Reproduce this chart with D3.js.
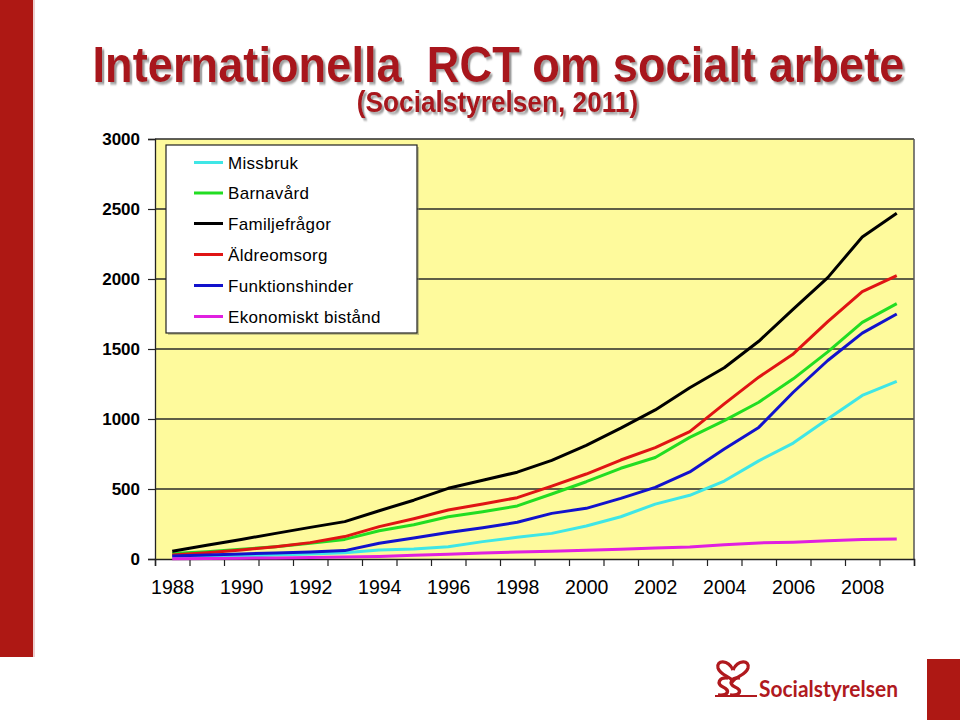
<!DOCTYPE html>
<html>
<head>
<meta charset="utf-8">
<script src="https://cdn.jsdelivr.net/npm/d3@7"></script>
<style>
  html, body { margin: 0; padding: 0; background: #ffffff; }
  svg { display: block; }
</style>
</head>
<body>
<svg id="chart" width="960" height="720"></svg>
<script>
// ---------- data ----------
const years = [1988,1989,1990,1991,1992,1993,1994,1995,1996,1997,1998,1999,2000,2001,2002,2003,2004,2005,2006,2007,2008,2009];
const yTicks = [0,500,1000,1500,2000,2500,3000];
const xLabelYears = [1988,1990,1992,1994,1996,1998,2000,2002,2004,2006,2008];

const seriesNames = ["Missbruk","Barnavård","Familjefrågor","Äldreomsorg","Funktionshinder","Ekonomiskt bistånd"];
const seriesColors = ["#3FE6E6","#22DD22","#000000","#E01414","#1212CC","#E020E0"];

const missbruk        = [12,16,21,28,36,45,64,72,88,124,155,183,236,302,392,455,557,701,828,1000,1168,1268];
const barnavard       = [40,52,69,88,112,140,202,245,302,338,379,464,552,648,725,869,988,1120,1287,1479,1690,1824];
const familjefragor   = [55,98,140,183,226,267,345,420,505,562,620,705,812,935,1065,1223,1366,1555,1785,2010,2300,2470];
const aldreomsorg     = [29,45,64,88,117,160,231,288,350,393,438,521,607,707,795,910,1108,1299,1465,1695,1910,2024];
const funktionshinder = [21,29,36,43,50,60,112,150,190,224,262,326,362,433,512,622,785,940,1191,1418,1613,1750];
const ekonomiskt      = [2,4,6,8,10,14,18,27,34,42,50,56,63,70,78,86,101,115,120,130,139,143];

const seriesValues = [missbruk, barnavard, familjefragor, aldreomsorg, funktionshinder, ekonomiskt];

// ---------- layout ----------
const svg = d3.select("#chart");
const plot = {left:155, right:914, top:139, bottom:559};

const defs = svg.append("defs");
const f = defs.append("filter").attr("id","tshadow").attr("x","-5%").attr("y","-20%").attr("width","115%").attr("height","160%");
f.append("feDropShadow").attr("dx",2.5).attr("dy",2.5).attr("stdDeviation",0.8)
  .attr("flood-color","#888").attr("flood-opacity",0.8);

// decorative red bars
svg.append("rect").attr("x",0).attr("y",0).attr("width",33).attr("height",657).attr("fill","#AE1814");
svg.append("rect").attr("x",33).attr("y",0).attr("width",2).attr("height",657).attr("fill","#d9a0a0").attr("opacity",0.5);
svg.append("rect").attr("x",927).attr("y",659).attr("width",33).attr("height",61).attr("fill","#AE1814");

// title (one text element, two lines)
const sx = 0.905;
const title = svg.append("text")
  .attr("transform",`translate(0,0) scale(${sx},1)`)
  .attr("font-family","Liberation Sans, Arial, sans-serif").attr("font-weight","bold")
  .attr("text-anchor","middle").attr("fill","#A8161B").attr("filter","url(#tshadow)")
  .style("white-space","pre");
title.append("tspan").attr("x",498.5/sx).attr("y",82.5).attr("font-size",50)
  .text("Internationella  RCT om socialt arbete");
title.append("tspan").attr("x",497.5/sx).attr("y",112.5).attr("font-size",29)
  .text("(Socialstyrelsen, 2011)");

// scales
const x = d3.scalePoint().domain(years).range([plot.left, plot.right]).padding(0.5);
const xb = d3.scaleLinear().domain([0, years.length]).range([plot.left, plot.right]);
const y = d3.scaleLinear().domain([0,3000]).range([plot.bottom, plot.top]);

// plot background
svg.append("rect").attr("x",plot.left).attr("y",plot.top)
  .attr("width",plot.right-plot.left).attr("height",plot.bottom-plot.top)
  .attr("fill","#FEFA9C");

// gridlines
svg.append("g").selectAll("line").data(yTicks.filter(d=>d>0)).join("line")
  .attr("x1",plot.left).attr("x2",plot.right)
  .attr("y1",d=>y(d)).attr("y2",d=>y(d))
  .attr("stroke","#2a2a2a").attr("stroke-width",1.3);

// right border
svg.append("line").attr("x1",plot.right).attr("x2",plot.right).attr("y1",plot.top).attr("y2",plot.bottom)
  .attr("stroke","#555").attr("stroke-width",1.5);

// y axis
const yAxis = svg.append("g").attr("transform",`translate(${plot.left},0)`)
  .call(d3.axisLeft(y).tickValues(yTicks).tickSize(7).tickPadding(8).tickFormat(d3.format("d")));
yAxis.select(".domain").attr("stroke","#222").attr("stroke-width",1.3);
yAxis.selectAll(".tick line").attr("stroke","#222").attr("stroke-width",1.2);
yAxis.selectAll("text").attr("font-family","Liberation Sans, Arial, sans-serif").attr("font-weight","bold")
  .attr("font-size",17).attr("fill","#000");

// x axis ticks (category boundaries)
const xAxisTicks = svg.append("g").attr("transform",`translate(0,${plot.bottom})`)
  .call(d3.axisBottom(xb).tickValues(d3.range(0, years.length+1)).tickSize(7).tickFormat(""));
xAxisTicks.select(".domain").attr("stroke","#222").attr("stroke-width",1.5);
xAxisTicks.selectAll(".tick line").attr("stroke","#222").attr("stroke-width",1.2);

// x labels
const xAxisLabels = svg.append("g").attr("transform",`translate(0,${plot.bottom})`)
  .call(d3.axisBottom(x).tickValues(xLabelYears).tickSize(0).tickPadding(21).tickFormat(d3.format("d")));
xAxisLabels.select(".domain").remove();
xAxisLabels.selectAll("text").attr("font-family","Liberation Sans, Arial, sans-serif")
  .attr("font-size",19.5).attr("fill","#000");

// lines
const line = d3.line().x((d,i)=>x(years[i])).y(d=>y(d));
svg.append("g").selectAll("path").data(seriesValues).join("path")
  .attr("d", d=>line(d))
  .attr("fill","none")
  .attr("stroke",(d,i)=>seriesColors[i])
  .attr("stroke-width",3)
  .attr("stroke-linejoin","round");

// legend
const lg = svg.append("g");
lg.append("rect").attr("x",168).attr("y",147).attr("width",251).attr("height",188).attr("fill","#8a8a6a").attr("opacity",0.5);
lg.append("rect").attr("x",166).attr("y",145).attr("width",251).attr("height",188)
  .attr("fill","#ffffff").attr("stroke","#222").attr("stroke-width",1.2);
const legendRows = [162.5, 193, 223.5, 254.5, 285.5, 316.5];
seriesNames.forEach((name,i)=>{
  lg.append("line").attr("x1",194).attr("x2",223).attr("y1",legendRows[i]).attr("y2",legendRows[i])
    .attr("stroke",seriesColors[i]).attr("stroke-width",3);
  lg.append("text").attr("x",228).attr("y",legendRows[i]+6)
    .attr("font-family","Liberation Sans, Arial, sans-serif").attr("font-size",17)
    .attr("letter-spacing",0.3).attr("fill","#000").text(name);
});

// logo
const logo = svg.append("g").attr("transform","translate(713,655)");
const red = "#B0191E";
logo.append("path").attr("d","M20,15 C15,4 3,5 5,13 C7,20 16,21 20,26 C24,21 33,20 35,13 C37,5 25,4 20,15")
  .attr("fill","none").attr("stroke",red).attr("stroke-width",3.2);
logo.append("path").attr("d","M15,23 C6,22 3,29 10,32 C17,35 16,41 5,40")
  .attr("fill","none").attr("stroke",red).attr("stroke-width",3.4);
logo.append("path").attr("d","M27,23 C18,22 15,29 22,32 C29,35 28,41 17,40")
  .attr("fill","none").attr("stroke",red).attr("stroke-width",3.4);
logo.append("path").attr("d","M2,41 L44,41").attr("stroke",red).attr("stroke-width",2);
svg.append("text").attr("x",759).attr("y",697).attr("font-family","Lato, Open Sans, sans-serif")
  .attr("font-weight","bold").attr("font-size",23).attr("fill",red)
  .attr("textLength",139).attr("lengthAdjust","spacingAndGlyphs").text("Socialstyrelsen");
</script>
</body>
</html>
